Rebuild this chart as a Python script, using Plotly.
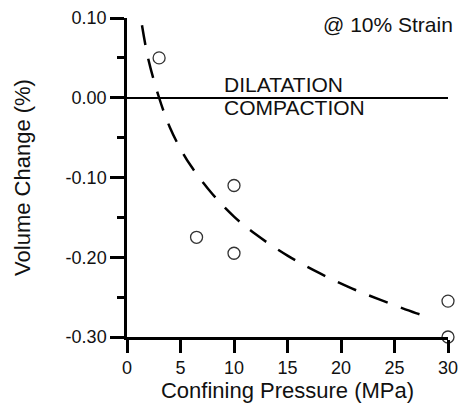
import plotly.graph_objects as go

# Measured volume change at 10% strain
pressure_mpa = [3.0, 6.5, 10.0, 10.0, 30.0, 30.0]
volume_change = [0.05, -0.175, -0.11, -0.195, -0.255, -0.30]

# Dashed trend curve, sampled along its path
trend_pressure = [1.4, 2, 3, 4, 5, 6, 8, 10, 12, 15, 18, 21, 24, 27, 28.4]
trend_change = [0.091, 0.048, 0.0, -0.037, -0.064, -0.086, -0.121, -0.149,
                -0.171, -0.198, -0.220, -0.239, -0.255, -0.270, -0.276]

x_ticks = [0, 5, 10, 15, 20, 25, 30]
y_ticks = [0.10, 0.00, -0.10, -0.20, -0.30]
y_tick_text = ["0.10", "0.00", "-0.10", "-0.20", "-0.30"]

FONT = "Liberation Sans, Arial, Helvetica, sans-serif"

fig = go.Figure()

fig.add_trace(go.Scatter(
    x=trend_pressure, y=trend_change, mode="lines",
    line=dict(color="black", width=2.5, dash="20px,14px", shape="spline"),
    hoverinfo="skip", showlegend=False,
))

fig.add_trace(go.Scatter(
    x=pressure_mpa, y=volume_change, mode="markers",
    marker=dict(symbol="circle-open", size=12, color="#333333",
                line=dict(width=1.3, color="#333333")),
    cliponaxis=False, showlegend=False,
))

fig.add_annotation(text="@ 10% Strain", xref="paper", yref="paper",
                   x=1, y=1, xanchor="right", yanchor="middle",
                   xshift=7, yshift=-6, showarrow=False,
                   font=dict(family=FONT, size=21, color="#111"))
fig.add_annotation(text="DILATATION", x=8.9, y=0.0166,
                   xanchor="left", yanchor="middle", showarrow=False,
                   font=dict(family=FONT, size=21, color="#111"))
fig.add_annotation(text="COMPACTION", x=8.9, y=-0.0128,
                   xanchor="left", yanchor="middle", showarrow=False,
                   font=dict(family=FONT, size=21, color="#111"))

fig.update_layout(
    width=459, height=406,
    margin=dict(l=127, r=11, t=18, b=69),
    paper_bgcolor="white", plot_bgcolor="white",
    font=dict(family=FONT, color="#111"),
    showlegend=False,
)

fig.update_xaxes(
    range=[0, 30], tickvals=x_ticks, automargin=False,
    showline=True, linecolor="black", linewidth=2.5,
    ticks="outside", ticklen=13, tickwidth=2.5, tickcolor="black",
    ticklabeloverflow="allow",
    showgrid=False, zeroline=False,
    tickfont=dict(family=FONT, size=18),
    title=dict(text="Confining Pressure (MPa)", font=dict(family=FONT, size=22), standoff=4),
)

fig.update_yaxes(
    range=[-0.30, 0.10], tickvals=y_ticks, ticktext=y_tick_text, automargin="left",
    showline=True, linecolor="black", linewidth=2.5,
    ticks="outside", ticklen=14, tickwidth=2.5, tickcolor="black",
    minor=dict(dtick=0.05, tick0=0.05, ticks="outside", ticklen=7,
               tickwidth=2.5, tickcolor="black", showgrid=False),
    showgrid=False,
    zeroline=True, zerolinecolor="black", zerolinewidth=2,
    tickfont=dict(family=FONT, size=18),
    title=dict(text="Volume Change (%)", font=dict(family=FONT, size=22), standoff=29),
)

fig.write_html("out.html")
